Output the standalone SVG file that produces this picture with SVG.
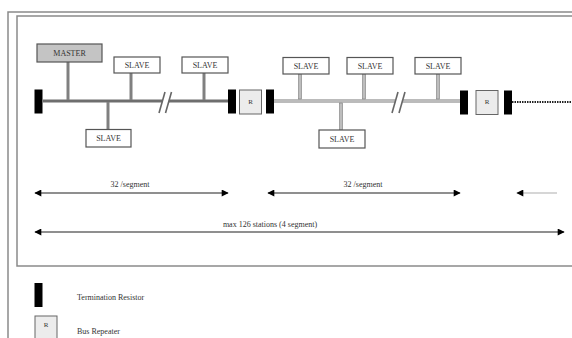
<svg xmlns="http://www.w3.org/2000/svg" width="572" height="338" viewBox="0 0 572 338">
<defs>
<style>
text{font-family:"Liberation Serif","Times New Roman",serif;font-size:8px;fill:#333}
.box{fill:#fff;stroke:#555;stroke-width:1.2}
.master{fill:#c4c4c4;stroke:#555;stroke-width:1.2}
.term{fill:#000}
.rep{fill:#ececec;stroke:#666;stroke-width:1}
.frame{fill:none;stroke:#8a8a8a;stroke-width:1.5}
.bus1{stroke:#6e6e6e;stroke-width:3}
.bus2{stroke:#bbb;stroke-width:4}
.drop1{stroke:#808080;stroke-width:3}
.drop2{fill:#bdbdbd;stroke:#7a7a7a;stroke-width:0.6}
.slash{stroke:#666;stroke-width:1.6}
.dim{stroke:#6a6a6a;stroke-width:1.5;fill:none}
.dimlight{stroke:#c8c8c8;stroke-width:1.5;fill:none}
</style>
<marker id="ah" viewBox="0 0 10 10" refX="9" refY="5" markerWidth="9" markerHeight="7" markerUnits="userSpaceOnUse" orient="auto-start-reverse">
<path d="M0,0 L10,5 L0,10 Z" fill="#000"/>
</marker>
</defs>
<rect width="572" height="338" fill="#fff"/>
<g id="frame">
<path class="frame" d="M8,338 V12 H572"/>
<path class="frame" d="M572,16 H17 V266 H572"/>
</g>
<g id="connectors">
<line class="bus1" x1="43" y1="101" x2="162.4" y2="101"/>
<line class="bus1" x1="168.9" y1="101" x2="228" y2="101"/>
<line class="bus2" x1="274" y1="101" x2="395.4" y2="101"/>
<line class="bus2" x1="402.4" y1="101" x2="460" y2="101"/>
<line class="drop1" x1="68" y1="62" x2="68" y2="100"/>
<line class="drop1" x1="131" y1="73" x2="131" y2="100"/>
<line class="drop1" x1="108" y1="102" x2="108" y2="129"/>
<line class="drop1" x1="204" y1="73" x2="204" y2="100"/>
<rect class="drop2" x="298.5" y="74" width="3" height="25"/>
<rect class="drop2" x="362.5" y="74" width="3" height="25"/>
<rect class="drop2" x="436.5" y="74" width="3" height="25"/>
<rect class="drop2" x="339.5" y="103" width="3" height="27"/>
<line class="slash" x1="159" y1="113" x2="165" y2="92"/>
<line class="slash" x1="165.5" y1="113" x2="171.5" y2="92"/>
<line class="slash" x1="392" y1="113" x2="398" y2="92"/>
<line class="slash" x1="399" y1="113" x2="405" y2="92"/>
<line x1="512" y1="102" x2="572" y2="102" stroke="#222" stroke-width="2" stroke-dasharray="1.5 1"/>
<line class="dim" x1="35" y1="193" x2="228" y2="193" marker-start="url(#ah)" marker-end="url(#ah)"/>
<line class="dim" x1="268" y1="193" x2="460" y2="193" marker-start="url(#ah)" marker-end="url(#ah)"/>
<line class="dimlight" x1="517" y1="193" x2="557" y2="193" marker-start="url(#ah)"/>
<line class="dim" x1="35" y1="232" x2="564" y2="232" marker-start="url(#ah)" marker-end="url(#ah)"/>
</g>
<g id="master"><rect class="master" x="37" y="44" width="65" height="18"/><text x="69.5" y="56" text-anchor="middle">MASTER</text></g>
<g id="slave1"><rect class="box" x="114" y="57" width="46" height="16"/><text x="137" y="68" text-anchor="middle">SLAVE</text></g>
<g id="slave2"><rect class="box" x="86" y="129.5" width="45" height="17.5"/><text x="108.5" y="141" text-anchor="middle">SLAVE</text></g>
<g id="slave3"><rect class="box" x="182" y="57" width="46" height="16"/><text x="205" y="68" text-anchor="middle">SLAVE</text></g>
<g id="slave4"><rect class="box" x="283" y="57.5" width="46" height="16.5"/><text x="306" y="68.5" text-anchor="middle">SLAVE</text></g>
<g id="slave5"><rect class="box" x="347" y="57.5" width="46" height="16.5"/><text x="370" y="68.5" text-anchor="middle">SLAVE</text></g>
<g id="slave6"><rect class="box" x="415" y="57.5" width="46" height="16.5"/><text x="438" y="68.5" text-anchor="middle">SLAVE</text></g>
<g id="slave7"><rect class="box" x="319" y="130" width="46" height="18"/><text x="342" y="141.5" text-anchor="middle">SLAVE</text></g>
<g id="term1"><rect class="term" x="34.5" y="89.5" width="8" height="24"/></g>
<g id="term2"><rect class="term" x="228" y="89.5" width="8" height="24"/></g>
<g id="rep1"><rect class="rep" x="239.5" y="90" width="22" height="24"/><text x="250.5" y="104" text-anchor="middle" style="font-size:7px">R</text></g>
<g id="term3"><rect class="term" x="266" y="89.5" width="8" height="24"/></g>
<g id="term4"><rect class="term" x="460" y="90.5" width="8" height="24"/></g>
<g id="rep2"><rect class="rep" x="476" y="90.5" width="22" height="24"/><text x="487" y="104" text-anchor="middle" style="font-size:7px">R</text></g>
<g id="term5"><rect class="term" x="504" y="90.5" width="8" height="24"/></g>
<g id="labels">
<text x="130" y="187" text-anchor="middle">32 /segment</text>
<text x="363" y="187" text-anchor="middle">32 /segment</text>
<text x="270" y="227" text-anchor="middle">max 126 stations (4 segment)</text>
</g>
<g id="legend">
<rect class="term" x="34.5" y="283" width="8" height="24"/>
<text x="77" y="300">Termination Resistor</text>
<rect class="rep" x="35" y="316" width="22" height="26"/>
<text x="46" y="327" text-anchor="middle" style="font-size:7px">R</text>
<text x="77" y="334">Bus Repeater</text>
</g>
</svg>
